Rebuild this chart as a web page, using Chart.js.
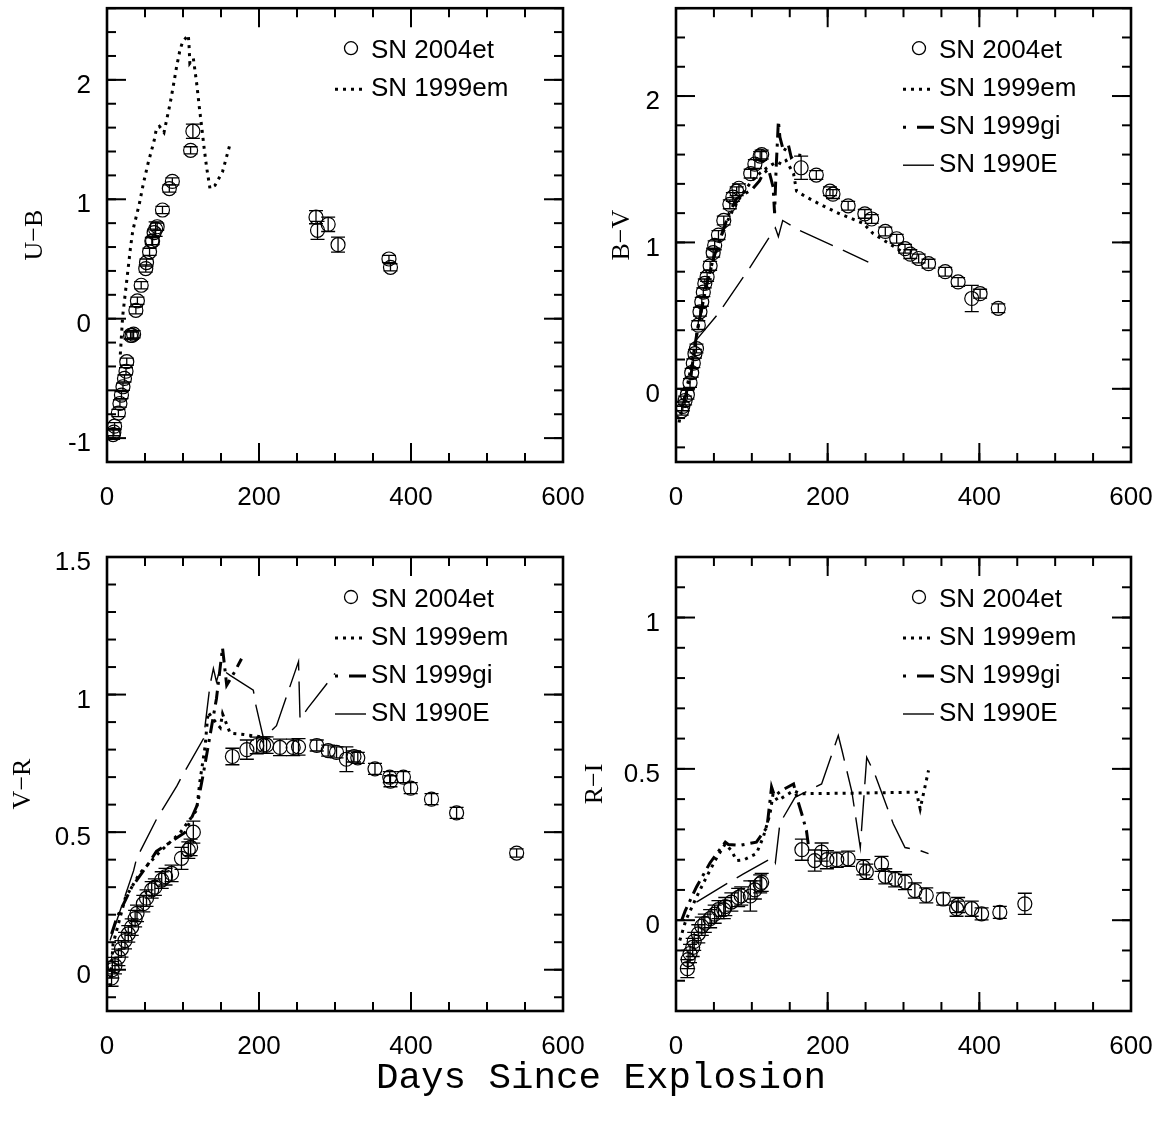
<!DOCTYPE html>
<html lang="en">
<head>
<meta charset="UTF-8" />
<title>SN 2004et colour curves</title>
<script src="https://cdn.jsdelivr.net/npm/chart.js"></script>
<style>
  body { margin: 0; background: #fff; width: 1162px; height: 1125px; position: relative; overflow: hidden; }
  canvas { position: absolute; }
  #xlabel { position: absolute; left: 0; width: 1202px; top: 1057px; text-align: center;
            font-family: "Liberation Mono", "DejaVu Sans Mono", monospace; font-size: 37.5px; color: #000; }
</style>
</head>
<body>
<canvas id="ub" width="600" height="530" style="left:0;top:0"></canvas>
<canvas id="bv" width="600" height="530" style="left:560px;top:0"></canvas>
<canvas id="vr" width="600" height="560" style="left:0;top:520px"></canvas>
<canvas id="ri" width="600" height="560" style="left:560px;top:520px"></canvas>
<div id="xlabel">Days Since Explosion</div>

<script>
// tick labels
const dayTicks = [0, 200, 400, 600];
const ubTicks = [-1, 0, 1, 2];
const bvTicks = [0, 1, 2];
const vrTicks = [0, 0.5, 1, 1.5];
const riTicks = [0, 0.5, 1];

// ---------- U-B ----------
const ubDays = [8, 9, 10, 15, 17, 19, 21, 23, 25, 26, 31, 33, 35, 38, 40, 45, 51, 52, 56, 59, 60, 62, 64, 66, 73, 82, 86, 110, 113, 275, 277, 291, 304, 371, 373];
const ubVals = [-0.97, -0.95, -0.90, -0.79, -0.71, -0.64, -0.57, -0.50, -0.44, -0.36, -0.14, -0.14, -0.13, 0.07, 0.15, 0.28, 0.42, 0.47, 0.56, 0.65, 0.65, 0.72, 0.75, 0.77, 0.91, 1.09, 1.15, 1.41, 1.57, 0.85, 0.74, 0.79, 0.62, 0.50, 0.43];
const ubErr  = [0.04, 0.03, 0.03, 0.03, 0.03, 0.03, 0.03, 0.03, 0.03, 0.03, 0.03, 0.03, 0.03, 0.03, 0.03, 0.03, 0.03, 0.03, 0.03, 0.03, 0.03, 0.03, 0.06, 0.03, 0.03, 0.03, 0.03, 0.03, 0.06, 0.055, 0.075, 0.06, 0.063, 0.03, 0.03];
const ubEmDays = [17.5, 20.6, 26, 31, 34, 42.5, 47.8, 54, 62, 65, 69, 75, 83, 87, 91.6, 96, 99.6, 107, 108, 109, 113.6, 118, 121.5, 124.6, 127.6, 131, 135.5, 142, 152, 162];
const ubEmVals = [-0.30, 0.02, 0.32, 0.60, 0.74, 0.96, 1.13, 1.30, 1.49, 1.59, 1.61, 1.56, 1.80, 1.94, 2.11, 2.25, 2.32, 2.375, 2.28, 2.14, 2.18, 1.97, 1.77, 1.605, 1.44, 1.27, 1.09, 1.115, 1.23, 1.465];

// ---------- B-V ----------
const bvDays = [7.5, 9, 12, 15, 18.5, 20.7, 22.8, 25, 27, 29.4, 31.6, 34, 36, 38, 41, 45, 49, 51, 56, 63, 71, 75, 80, 83, 98.5, 104, 111, 113, 165, 185, 203, 207, 227, 249, 258, 276, 291, 302, 309, 320, 333, 355, 372, 390, 401, 425];
const bvVals = [-0.15, -0.12, -0.08, -0.04, 0.04, 0.11, 0.175, 0.24, 0.275, 0.435, 0.526, 0.594, 0.66, 0.72, 0.764, 0.84, 0.93, 0.98, 1.05, 1.15, 1.26, 1.31, 1.35, 1.37, 1.47, 1.535, 1.59, 1.60, 1.51, 1.46, 1.35, 1.33, 1.25, 1.195, 1.16, 1.075, 1.025, 0.957, 0.92, 0.89, 0.855, 0.80, 0.73, 0.617, 0.65, 0.55];
const bvErr  = [0.03, 0.03, 0.03, 0.03, 0.03, 0.03, 0.03, 0.03, 0.03, 0.03, 0.03, 0.03, 0.03, 0.03, 0.03, 0.03, 0.03, 0.03, 0.03, 0.03, 0.03, 0.03, 0.03, 0.03, 0.03, 0.03, 0.03, 0.03, 0.08, 0.03, 0.03, 0.03, 0.03, 0.03, 0.03, 0.03, 0.03, 0.03, 0.03, 0.03, 0.03, 0.03, 0.03, 0.09, 0.03, 0.03];
const bvEmDays = [4, 8, 14, 20, 25, 30, 36, 42, 50, 60, 70, 80, 90, 100, 110, 120, 126, 133, 139, 145, 155, 159, 172, 190, 216, 247, 260, 300];
const bvEmVals = [-0.23, -0.13, 0.0, 0.15, 0.30, 0.45, 0.60, 0.75, 0.90, 1.05, 1.17, 1.27, 1.35, 1.42, 1.47, 1.51, 1.53, 1.55, 1.535, 1.56, 1.47, 1.35, 1.31, 1.26, 1.195, 1.13, 1.06, 0.93];
const bvGiDays = [10, 20, 25, 30, 40, 50, 60, 70, 80, 90, 100, 110, 115, 122, 128, 130, 132, 135, 137, 142, 148, 152, 158, 170];
const bvGiVals = [-0.10, 0.10, 0.30, 0.45, 0.70, 0.90, 1.05, 1.20, 1.30, 1.33, 1.36, 1.42, 1.47, 1.50, 1.38, 1.20, 1.50, 1.83, 1.72, 1.62, 1.67, 1.58, 1.60, 1.59];
const bv90Days = [23, 56, 97.6, 126, 131, 135, 140.7, 163.5, 216, 253.6];
const bv90Vals = [0.31, 0.515, 0.83, 1.06, 1.10, 1.04, 1.15, 1.08, 0.957, 0.866];

// ---------- V-R ----------
const vrDays = [6, 7, 10.5, 15, 19, 23.7, 28, 32.5, 37, 39.5, 47.8, 52, 58.8, 63, 72, 77, 85, 98, 107, 110, 113.6, 165, 184, 197, 206, 210, 227.6, 245, 252, 276, 291, 302, 315, 325, 330, 352.6, 372, 373, 390, 399.6, 427, 460, 539];
const vrVals = [-0.03, 0.0, 0.015, 0.045, 0.076, 0.106, 0.13, 0.155, 0.186, 0.205, 0.24, 0.26, 0.29, 0.30, 0.326, 0.338, 0.35, 0.405, 0.435, 0.445, 0.50, 0.775, 0.80, 0.815, 0.816, 0.816, 0.808, 0.808, 0.81, 0.815, 0.796, 0.79, 0.765, 0.775, 0.77, 0.73, 0.70, 0.685, 0.70, 0.66, 0.62, 0.57, 0.424];
const vrErr  = [0.03, 0.03, 0.03, 0.03, 0.03, 0.03, 0.03, 0.03, 0.03, 0.03, 0.03, 0.03, 0.03, 0.03, 0.03, 0.03, 0.03, 0.04, 0.03, 0.03, 0.04, 0.03, 0.035, 0.03, 0.03, 0.03, 0.03, 0.03, 0.03, 0.02, 0.02, 0.02, 0.045, 0.02, 0.02, 0.02, 0.02, 0.02, 0.02, 0.02, 0.02, 0.02, 0.015];
const vrEmDays = [4, 8, 24, 43, 70, 96, 118, 122, 129, 133, 140, 149, 152, 162, 180, 206, 215];
const vrEmVals = [-0.06, 0.094, 0.26, 0.35, 0.43, 0.497, 0.58, 0.68, 0.81, 0.936, 0.91, 0.88, 0.93, 0.86, 0.855, 0.845, 0.83];
const vrGiDays = [6, 13, 22, 32.5, 52, 65, 87, 103, 119, 127, 144, 152, 157.5, 168, 177];
const vrGiVals = [0.13, 0.19, 0.24, 0.30, 0.375, 0.43, 0.47, 0.50, 0.60, 0.716, 0.985, 1.17, 1.034, 1.083, 1.13];
const vr90Days = [4, 35, 39, 65, 92, 98, 127, 135.5, 140, 144, 149, 162, 192.5, 196, 206, 223, 252, 254, 264, 300];
const vr90Vals = [0.106, 0.36, 0.405, 0.546, 0.668, 0.70, 0.84, 1.034, 1.095, 1.047, 1.095, 1.07, 1.016, 0.96, 0.84, 0.887, 1.12, 0.91, 0.95, 1.077];

// ---------- R-I ----------
const riDays = [15, 16, 18.5, 22, 24, 29.4, 34, 38, 45, 51, 56, 63, 65, 73, 82, 86, 98, 104, 111, 113, 166, 183, 192, 199, 212, 227, 247, 251, 271, 276, 289, 302, 315, 330, 352.5, 370, 372, 390, 403, 427, 460];
const riVals = [-0.16, -0.13, -0.11, -0.09, -0.07, -0.045, -0.02, -0.01, 0.005, 0.02, 0.035, 0.035, 0.045, 0.06, 0.075, 0.08, 0.08, 0.10, 0.12, 0.125, 0.233, 0.197, 0.225, 0.20, 0.20, 0.203, 0.175, 0.16, 0.186, 0.145, 0.135, 0.126, 0.098, 0.082, 0.07, 0.038, 0.05, 0.038, 0.021, 0.026, 0.054];
const riErr  = [0.03, 0.03, 0.03, 0.03, 0.03, 0.03, 0.03, 0.03, 0.03, 0.03, 0.03, 0.03, 0.03, 0.03, 0.03, 0.03, 0.05, 0.03, 0.03, 0.03, 0.035, 0.035, 0.03, 0.03, 0.025, 0.025, 0.025, 0.025, 0.025, 0.025, 0.025, 0.025, 0.025, 0.025, 0.02, 0.025, 0.025, 0.025, 0.02, 0.02, 0.035];
const riEmDays = [5, 13, 27, 40, 54, 65, 73, 80, 90, 106, 115, 124, 128, 134, 155, 163.5, 240, 317, 322, 333];
const riEmVals = [-0.067, 0.0, 0.076, 0.142, 0.208, 0.252, 0.23, 0.197, 0.20, 0.22, 0.274, 0.351, 0.418, 0.395, 0.428, 0.418, 0.42, 0.423, 0.368, 0.495];
const riGiDays = [7.5, 12, 27, 45, 65, 69, 84, 106, 120, 126, 130, 140, 155, 160, 166, 172, 175];
const riGiVals = [0.0, 0.03, 0.11, 0.19, 0.258, 0.25, 0.247, 0.258, 0.307, 0.44, 0.41, 0.43, 0.45, 0.40, 0.35, 0.296, 0.24];
const ri90Days = [27, 73, 89, 128, 131, 137, 157, 192, 214, 219, 232, 243, 251.5, 262, 280, 286.6, 302, 322, 333];
const ri90Vals = [0.06, 0.13, 0.153, 0.208, 0.19, 0.32, 0.406, 0.45, 0.61, 0.56, 0.423, 0.24, 0.538, 0.484, 0.362, 0.318, 0.24, 0.23, 0.22];

Chart.defaults.font.family = '"Liberation Sans", Arial, sans-serif';
Chart.defaults.font.size = 26;
Chart.defaults.color = '#000';

const zip = (xs, ys) => xs.map((x, i) => ({ x: x, y: ys[i] }));

const lineStyles = {
    dotted:  { borderDash: [3, 5], borderWidth: 3 },
    dashdot: { borderDash: [14, 6, 3, 6], borderWidth: 3 },
    dashed:  { borderDash: [36, 11], borderWidth: 1.4 }
};

// inward ticks on all four sides plus the box
const frameTicks = {
    id: 'frameTicks',
    afterDatasetsDraw(chart, args, opts) {
        const { ctx, chartArea: a, scales: { x, y } } = chart;
        const seg = (x1, y1, x2, y2) => { ctx.beginPath(); ctx.moveTo(x1, y1); ctx.lineTo(x2, y2); ctx.stroke(); };
        ctx.save();
        ctx.strokeStyle = '#000';
        ctx.lineWidth = 2;
        const xTick = (v, len) => { const p = x.getPixelForValue(v); seg(p, a.bottom, p, a.bottom - len); seg(p, a.top, p, a.top + len); };
        const yTick = (v, len) => { const p = y.getPixelForValue(v); seg(a.left, p, a.left + len, p); seg(a.right, p, a.right - len, p); };
        for (let v = Math.ceil(x.min / opts.xMinor) * opts.xMinor; v <= x.max + 1e-9; v += opts.xMinor) xTick(v, 9);
        for (let k = Math.ceil(y.min / opts.yMinor - 1e-6); k * opts.yMinor <= y.max + 1e-9; k++) yTick(k * opts.yMinor, 9);
        x.ticks.forEach(t => xTick(t.value, 19));
        y.ticks.forEach(t => yTick(t.value, 19));
        ctx.lineWidth = 2.6;
        ctx.strokeRect(a.left, a.top, a.right - a.left, a.bottom - a.top);
        ctx.restore();
    }
};

// vertical error bars with caps
const errorBars = {
    id: 'errorBars',
    afterDatasetsDraw(chart) {
        const { ctx, scales: { y } } = chart;
        ctx.save();
        ctx.beginPath();
        ctx.rect(chart.chartArea.left, chart.chartArea.top, chart.chartArea.width, chart.chartArea.height);
        ctx.clip();
        ctx.strokeStyle = '#000';
        ctx.lineWidth = 1.3;
        chart.data.datasets.forEach((ds, di) => {
            if (!ds.errors) return;
            chart.getDatasetMeta(di).data.forEach((pt, i) => {
                const v = ds.data[i].y, e = ds.errors[i];
                const y1 = y.getPixelForValue(v - e), y2 = y.getPixelForValue(v + e);
                ctx.beginPath();
                ctx.moveTo(pt.x, y1); ctx.lineTo(pt.x, y2);
                ctx.moveTo(pt.x - 7, y1); ctx.lineTo(pt.x + 7, y1);
                ctx.moveTo(pt.x - 7, y2); ctx.lineTo(pt.x + 7, y2);
                ctx.stroke();
            });
        });
        ctx.restore();
    }
};

// legend inside the upper right corner of the box
const innerLegend = {
    id: 'innerLegend',
    afterDraw(chart) {
        const { ctx, chartArea: a } = chart;
        ctx.save();
        ctx.font = '26px "Liberation Sans", Arial, sans-serif';
        ctx.textBaseline = 'middle';
        ctx.fillStyle = '#000';
        ctx.strokeStyle = '#000';
        chart.data.datasets.forEach((ds, i) => {
            const yy = a.top + 43 + i * 38;
            ctx.fillText(ds.label, a.right - 192, yy);
            const x1 = a.right - 228, x2 = a.right - 197;
            ctx.beginPath();
            if (ds.kind === 'obs') {
                ctx.lineWidth = 1.3;
                ctx.arc(a.right - 212, yy - 3, 6.5, 0, Math.PI * 2);
            } else if (ds.kind === 'dashdot') {
                ctx.lineWidth = 3;
                ctx.moveTo(x1, yy); ctx.lineTo(x1 + 3, yy);
                ctx.moveTo(x1 + 14, yy); ctx.lineTo(x2, yy);
            } else {
                ctx.lineWidth = lineStyles[ds.kind].borderWidth;
                ctx.setLineDash(ds.kind === 'dotted' ? [3, 5] : []);
                ctx.moveTo(x1, yy); ctx.lineTo(x2, yy);
            }
            ctx.stroke();
            ctx.setLineDash([]);
        });
        ctx.restore();
    }
};

function lineSet(label, days, vals, kind) {
    return Object.assign({
        label: label, kind: kind, data: zip(days, vals), showLine: true,
        pointRadius: 0, borderColor: '#000', tension: 0, fill: false
    }, lineStyles[kind]);
}

function makePanel(id, p) {
    const datasets = [{
        label: 'SN 2004et', kind: 'obs', data: zip(p.days, p.vals), errors: p.err,
        showLine: false, pointStyle: 'circle', pointRadius: 7, borderWidth: 1.2,
        borderColor: '#000', backgroundColor: 'rgba(0,0,0,0)'
    }];
    p.lines.forEach(l => datasets.push(lineSet(l[0], l[1], l[2], l[3])));

    new Chart(document.getElementById(id), {
        type: 'scatter',
        data: { datasets: datasets },
        options: {
            responsive: false,
            animation: false,
            devicePixelRatio: 1,
            layout: { padding: { top: p.top, right: p.right, left: 0, bottom: 0 } },
            scales: {
                x: {
                    min: 0, max: 600,
                    grid: { display: false, drawTicks: false, tickLength: 0 },
                    border: { display: false },
                    ticks: { padding: 20, maxRotation: 0, callback: v => String(v) },
                    afterBuildTicks: s => { s.ticks = dayTicks.map(v => ({ value: v })); },
                    afterFit: s => { s.height = p.xh; s.paddingLeft = 0; s.paddingRight = 0; }
                },
                y: {
                    min: p.yMin, max: p.yMax,
                    grid: { display: false, drawTicks: false, tickLength: 0 },
                    border: { display: false },
                    ticks: { padding: 16, labelOffset: 6, callback: v => String(v) },
                    afterBuildTicks: s => { s.ticks = p.yTicks.map(v => ({ value: v })); },
                    title: { display: true, text: p.title, padding: p.titlePad,
                             font: { family: '"Liberation Serif", "Times New Roman", serif', size: 26 } },
                    afterFit: s => { s.width = p.yw; s.paddingTop = 0; s.paddingBottom = 0; }
                }
            },
            plugins: {
                legend: { display: false },
                tooltip: { enabled: false },
                frameTicks: { xMinor: 50, yMinor: p.yMinor }
            }
        },
        plugins: [frameTicks, errorBars, innerLegend]
    });
}

makePanel('ub', {
    days: ubDays, vals: ubVals, err: ubErr,
    lines: [['SN 1999em', ubEmDays, ubEmVals, 'dotted']],
    yMin: -1.2, yMax: 2.6, yTicks: ubTicks, yMinor: 0.2,
    title: 'U\u2212B', titlePad: 20, yw: 107, xh: 68, top: 6, right: 37
});
makePanel('bv', {
    days: bvDays, vals: bvVals, err: bvErr,
    lines: [['SN 1999em', bvEmDays, bvEmVals, 'dotted'],
            ['SN 1999gi', bvGiDays, bvGiVals, 'dashdot'],
            ['SN 1990E', bv90Days, bv90Vals, 'dashed']],
    yMin: -0.5, yMax: 2.6, yTicks: bvTicks, yMinor: 0.2,
    title: 'B\u2212V', titlePad: 47, yw: 116, xh: 68, top: 6, right: 29
});
makePanel('vr', {
    days: vrDays, vals: vrVals, err: vrErr,
    lines: [['SN 1999em', vrEmDays, vrEmVals, 'dotted'],
            ['SN 1999gi', vrGiDays, vrGiVals, 'dashdot'],
            ['SN 1990E', vr90Days, vr90Vals, 'dashed']],
    yMin: -0.15, yMax: 1.5, yTicks: vrTicks, yMinor: 0.1,
    title: 'V\u2212R', titlePad: 8, yw: 107, xh: 69, top: 37, right: 37
});
makePanel('ri', {
    days: riDays, vals: riVals, err: riErr,
    lines: [['SN 1999em', riEmDays, riEmVals, 'dotted'],
            ['SN 1999gi', riGiDays, riGiVals, 'dashdot'],
            ['SN 1990E', ri90Days, ri90Vals, 'dashed']],
    yMin: -0.3, yMax: 1.2, yTicks: riTicks, yMinor: 0.1,
    title: 'R\u2212I', titlePad: 20, yw: 116, xh: 69, top: 37, right: 29
});
</script>
</body>
</html>
